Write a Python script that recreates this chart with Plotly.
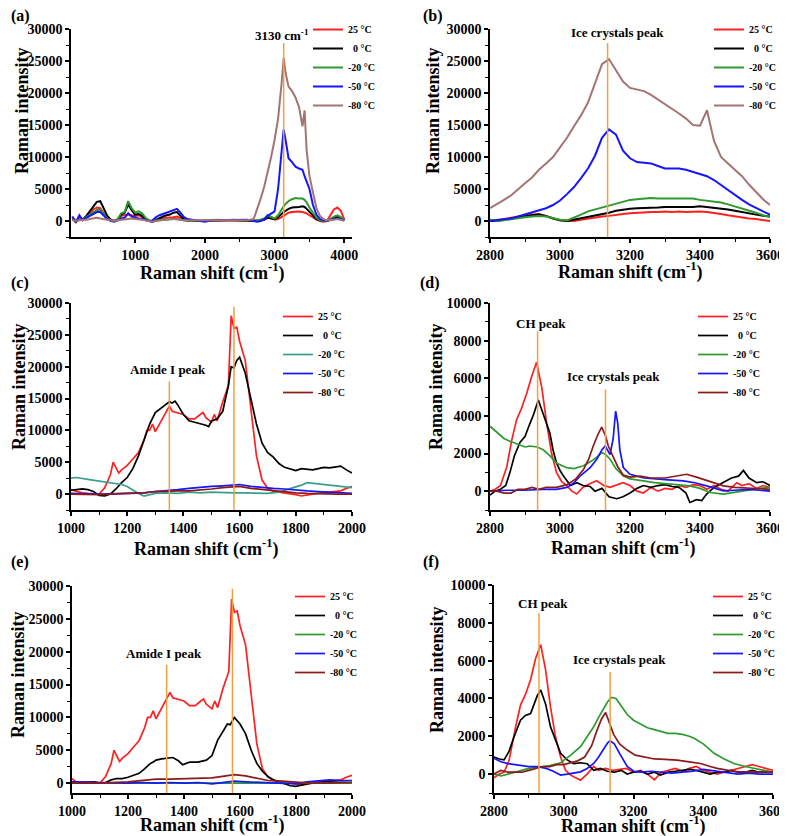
import plotly.graph_objects as go

# ---------------- data ----------------
TEMPS = ["25 °C", "\u00a0\u00a00 °C", "-20 °C", "-50 °C", "-80 °C"]

# (a) full spectrum
a_x = [100, 150, 200, 250, 300, 350, 400, 450, 500, 550, 600, 650, 700, 750, 800, 850, 900, 950, 1000, 1050,
       1100, 1150, 1200, 1250, 1300, 1350, 1400, 1450, 1500, 1550, 1600, 1650, 1700, 1750, 1800,
       1900, 2000, 2100, 2200, 2300, 2400, 2500, 2600, 2700,
       2750, 2800, 2850, 2900, 2950, 3000, 3050, 3100,
       3130, 3160, 3200, 3250, 3300, 3350, 3400, 3430, 3460,
       3500, 3550, 3600, 3650, 3700, 3750, 3800, 3850, 3900, 3950, 4000]
a_25 = [600, -200, 500, 300, 700, 1200, 1800, 2100, 2000, 1200, 400, 100, 0, 300, 800, 900, 1000, 900, 800, 900,
        600, 100, 0, -100, 100, 300, 400, 500, 500, 600, 700, 400, 200, 100, 0,
        50, 0, 100, 100, 50, 100, 100, 50, 0,
        50, 200, 300, 700, 600, 200, 300, 600,
        800, 1000, 1300, 1400, 1500, 1500, 1400, 1300, 1200,
        900, 500, 200, 0, -100, 0, 800, 1800, 2100, 1600, 200]
a_0 = [300, -100, 200, 200, 800, 1500, 2300, 3000, 3100, 2000, 800, 200, 0, 200, 1000, 1300, 2600, 1700, 1000, 1100,
       800, 300, 0, -100, 200, 500, 700, 900, 1000, 1300, 1400, 800, 300, 100, 50,
       0, 50, 100, 50, 100, 100, 50, 100, 50,
       0, 100, 200, 500, 400, 300, 600, 1200,
       1400, 1600, 1900, 2100, 2100, 2200, 2300, 2200, 1900,
       1400, 800, 300, 100, 0, 0, 200, 500, 600, 400, 100]
a_m20 = [400, 100, 300, 200, 600, 1000, 1400, 1700, 1700, 1100, 400, 100, 0, 300, 1200, 1400, 3100, 2000, 1300, 1500,
         1200, 500, 100, 0, 100, 200, 200, 200, 300, 300, 300, 200, 100, 0, 50,
         100, 100, 200, 200, 100, 200, 100, 100, 0,
         100, 200, 400, 900, 700, 400, 900, 1900,
         2300, 2700, 3100, 3400, 3600, 3500, 3500, 3300, 2900,
         2100, 1200, 500, 100, 0, 0, 300, 700, 900, 600, 100]
a_m50 = [700, -200, 900, 100, 500, 800, 1100, 1400, 1400, 900, 300, 0, -100, 100, 400, 500, 1200, 700, 500, 400,
         300, 100, 0, 100, 600, 900, 1100, 1300, 1500, 1800, 1900, 1300, 600, 300, 200,
         0, -100, 100, 100, 200, 200, 200, 200, 0,
         -100, 0, 200, 800, 1100, 1500, 5000, 11000,
         14300, 12500, 9800, 9200, 8500, 8200, 8000, 7000, 6200,
         5000, 2500, 1000, 300, 100, 0, 200, 300, 400, 300, 100]
a_m80 = [200, 0, 100, 100, 200, 300, 400, 500, 400, 300, 100, 0, 0, 100, 200, 300, 300, 400, 300, 300,
         200, 100, 0, -100, 0, 100, 200, 200, 300, 300, 300, 200, 100, 100, 0,
         0, 100, 100, 0, 100, 100, 50, 100, 300,
         1800, 3500, 5300, 7500, 10000, 12700, 16000, 21500,
         25500, 23000, 21000, 20300, 19300, 17800, 14800, 17300, 11000,
         7000, 4500, 2000, 800, 300, 100, 100, 200, 300, 200, 50]

# (b) O-H region
b_x = [2800, 2820, 2840, 2860, 2880, 2900, 2920, 2940, 2960, 2980, 3000, 3020, 3040, 3060, 3080, 3100, 3120, 3140,
       3160, 3180, 3200, 3220, 3240, 3260, 3280, 3300, 3320, 3340, 3360, 3380, 3400, 3420, 3440, 3460, 3480, 3500,
       3520, 3540, 3560, 3580, 3600]
b_25 = [0, 100, 300, 500, 700, 900, 1000, 1100, 800, 400, 100, 0, 0, 200, 400, 600, 700, 800, 1000, 1100,
        1200, 1300, 1400, 1400, 1400, 1500, 1400, 1500, 1400, 1500, 1500, 1400, 1300, 1100, 900, 700, 500, 400, 300, 100, 0]
b_0 = [0, 0, 200, 400, 600, 800, 900, 1000, 800, 400, 100, 0, 200, 500, 700, 900, 1100, 1300, 1600, 1800,
       1900, 2000, 2000, 2100, 2100, 2200, 2200, 2100, 2200, 2200, 2300, 2200, 2100, 2000, 1800, 1600, 1400, 1100, 900, 800, 700]
b_m20 = [200, 0, 100, 300, 500, 600, 700, 800, 700, 400, 200, 100, 500, 1000, 1500, 1800, 2100, 2500, 2800, 3100,
         3300, 3400, 3500, 3600, 3500, 3500, 3400, 3500, 3400, 3500, 3300, 3200, 3100, 2900, 2600, 2300, 2000, 1700, 1300, 900, 600]
b_m50 = [0, 100, 200, 400, 700, 1000, 1300, 1600, 2000, 2500, 3200, 4200, 5300, 6700, 8200, 10200, 13000, 14300, 13500, 11000,
         9800, 9200, 9100, 9000, 8600, 8200, 8200, 8200, 8000, 7700, 7400, 7000, 6400, 5600, 4800, 4000, 3300, 2600, 2000, 1500, 1000]
b_m80 = [2000, 2600, 3300, 4000, 5000, 5900, 6800, 8000, 9000, 10000, 11500, 13000, 14800, 16500, 18500, 21500, 24500, 25300, 23500, 21800,
         20800, 20500, 20300, 19700, 19000, 18300, 17500, 16800, 16000, 15000, 14900, 17300, 12500, 10000, 9000, 8000, 7000, 5700, 4500, 3400, 2500]

# (c) amide region, (x, intensity)
c_25 = [(1000, 700), (1020, 400), (1040, 200), (1060, 100), (1080, 0), (1100, 0), (1120, 1000), (1140, 3000), (1150, 5000),
        (1160, 4200), (1170, 3300), (1180, 3800), (1200, 4500), (1220, 5500), (1240, 6500), (1260, 8500), (1270, 10000),
        (1280, 10000), (1290, 11000), (1300, 9800), (1320, 11500), (1340, 13000), (1350, 13800), (1360, 13000), (1380, 12800),
        (1400, 12500), (1420, 11800), (1440, 11800), (1460, 12500), (1470, 12800), (1480, 12000), (1500, 11300), (1510, 12500),
        (1520, 11500), (1540, 14500), (1560, 17000), (1570, 28000), (1580, 26000), (1590, 26200), (1600, 24000), (1620, 21000),
        (1640, 13000), (1660, 6000), (1680, 2200), (1700, 900), (1720, 400), (1740, 300), (1760, 200), (1800, -100), (1820, -300),
        (1840, -100), (1860, 0), (1880, 100), (1900, 200), (1920, 300), (1940, 300), (1960, 500), (1980, 900), (2000, 1200)]
c_0 = [(1000, 600), (1020, 700), (1040, 800), (1060, 700), (1080, 400), (1100, -200), (1120, -300), (1140, 0), (1160, 800),
       (1180, 1800), (1200, 2600), (1220, 4000), (1240, 6000), (1260, 8500), (1280, 11000), (1300, 12800), (1320, 13500),
       (1340, 14200), (1350, 14500), (1360, 14300), (1370, 14600), (1380, 14000), (1400, 12500), (1420, 11500), (1440, 11300),
       (1460, 11000), (1480, 10800), (1490, 10600), (1500, 11500), (1520, 11800), (1540, 13000), (1560, 17000), (1570, 20000),
       (1580, 19800), (1590, 21000), (1600, 21500), (1620, 19000), (1640, 15000), (1660, 11000), (1680, 8000), (1700, 6500),
       (1720, 5800), (1740, 4800), (1760, 4200), (1780, 4000), (1800, 3700), (1820, 4000), (1840, 3900), (1860, 3800),
       (1880, 4000), (1900, 4200), (1920, 4100), (1940, 4300), (1960, 4400), (1980, 3800), (2000, 3300)]
c_m20 = [(1000, 2500), (1020, 2600), (1060, 2300), (1100, 2000), (1140, 1700), (1180, 1500), (1200, 1200), (1220, 600),
         (1240, 100), (1260, -300), (1280, -100), (1300, 100), (1340, 200), (1380, 100), (1420, 300), (1460, 200), (1500, 300),
         (1540, 200), (1580, 200), (1620, 200), (1660, 100), (1700, 100), (1740, 300), (1780, 800), (1820, 1400), (1840, 1800),
         (1860, 1700), (1900, 1400), (1940, 1200), (1980, 1100), (2000, 1000)]
c_m50 = [(1000, 100), (1100, 0), (1200, 100), (1260, 200), (1300, 400), (1340, 500), (1380, 700), (1420, 900), (1460, 1100),
         (1500, 1200), (1540, 1300), (1580, 1500), (1600, 1500), (1640, 1200), (1680, 1000), (1720, 900), (1760, 800),
         (1800, 600), (1840, 500), (1880, 400), (1920, 300), (1960, 200), (2000, 100)]
c_m80 = [(1000, 0), (1100, -100), (1200, 100), (1260, 200), (1300, 400), (1340, 500), (1380, 500), (1420, 500), (1460, 600),
         (1500, 800), (1540, 1000), (1580, 1200), (1600, 1200), (1640, 900), (1680, 700), (1720, 500), (1760, 400),
         (1800, 200), (1840, 100), (1900, 0), (1950, 0), (2000, 0)]

# (d) C-H / ice region
d_25 = [(2800, 0), (2815, 100), (2830, 300), (2848, 1300), (2862, 2700), (2876, 3800), (2890, 4400), (2905, 5200), (2919, 6100),
        (2933, 6850), (2948, 5500), (2962, 3600), (2976, 2000), (2990, 1000), (3005, 500), (3019, 300), (3034, 0), (3048, -150),
        (3065, 200), (3085, 400), (3105, 550), (3125, 300), (3143, 200), (3160, 300), (3180, 450), (3200, 300), (3220, 0),
        (3238, -100), (3260, 200), (3280, 0), (3300, 150), (3320, 100), (3340, 300), (3360, 200), (3380, 350), (3400, 300),
        (3420, 100), (3440, 300), (3460, 100), (3480, 0), (3505, 450), (3520, 300), (3540, 400), (3562, 150), (3580, 300), (3600, 200)]
d_0 = [(2800, -200), (2815, 0), (2830, 100), (2845, 300), (2857, 1000), (2870, 1900), (2886, 2600), (2900, 2900), (2912, 3500),
       (2925, 4100), (2938, 4850), (2950, 4200), (2962, 3500), (2971, 3100), (2980, 2200), (2990, 1500), (3000, 1100),
       (3010, 800), (3030, 300), (3048, 450), (3066, 300), (3086, 250), (3100, 0), (3120, 150), (3140, -300), (3162, -400),
       (3180, -300), (3200, -100), (3220, 150), (3238, 300), (3260, 200), (3280, 300), (3300, 350), (3320, 250), (3340, 200),
       (3360, -100), (3371, -600), (3390, -450), (3405, -500), (3419, -150), (3440, 200), (3467, 450), (3490, 700),
       (3510, 800), (3524, 1100), (3540, 700), (3562, 450), (3580, 500), (3600, 300)]
d_m20 = [(2800, 3450), (2820, 3100), (2840, 2800), (2857, 2650), (2880, 2500), (2900, 2350), (2914, 2400), (2935, 2350),
         (2952, 2200), (2970, 1900), (2990, 1500), (3005, 1350), (3019, 1250), (3040, 1200), (3067, 1350), (3090, 1600),
         (3105, 1800), (3119, 2050), (3130, 1950), (3143, 1700), (3160, 1200), (3181, 800), (3200, 650), (3238, 550),
         (3270, 450), (3300, 400), (3340, 350), (3371, 280), (3400, 150), (3429, -70), (3467, -160), (3500, -50),
         (3540, 50), (3570, 150), (3600, 200)]
d_m50 = [(2800, 0), (2850, 50), (2900, 50), (2950, 100), (2990, 100), (3020, 200), (3040, 450), (3057, 800), (3070, 1000),
         (3086, 1250), (3105, 1700), (3120, 2200), (3129, 2400), (3143, 1950), (3152, 2800), (3159, 4250), (3165, 3600),
         (3171, 2200), (3181, 1250), (3190, 1100), (3200, 900), (3240, 700), (3276, 630), (3310, 600), (3352, 550),
         (3385, 450), (3419, 280), (3440, 150), (3467, 20), (3500, 50), (3540, 100), (3570, 50), (3600, 0)]
d_m80 = [(2800, 0), (2820, 0), (2840, -100), (2860, -100), (2880, 100), (2900, 100), (2920, 200), (2940, 100), (2960, 200),
         (2990, 200), (3020, 350), (3045, 650), (3067, 1150), (3082, 1700), (3095, 2400), (3108, 3000), (3119, 3400),
         (3130, 2950), (3138, 2400), (3152, 1850), (3165, 1300), (3181, 850), (3200, 750), (3229, 800), (3260, 700),
         (3300, 700), (3333, 800), (3362, 900), (3390, 750), (3410, 630), (3440, 450), (3467, 280), (3500, 200),
         (3540, 150), (3570, 100), (3600, 100)]

# (e) amide region, second sample
e_25 = [(1000, 700), (1020, 0), (1040, 200), (1060, 100), (1080, 0), (1100, 0), (1120, 1000), (1140, 3000), (1150, 5000),
        (1160, 4200), (1170, 3300), (1180, 3800), (1200, 4500), (1220, 5500), (1240, 6500), (1260, 8500), (1270, 10000),
        (1280, 10000), (1290, 11000), (1300, 9800), (1320, 11500), (1340, 13000), (1350, 13800), (1360, 13000), (1380, 12800),
        (1400, 12500), (1420, 11800), (1440, 11800), (1460, 12500), (1470, 12800), (1480, 12000), (1500, 11300), (1510, 12500),
        (1520, 11500), (1540, 14500), (1560, 17000), (1570, 28000), (1580, 26000), (1590, 26200), (1600, 24000), (1620, 21000),
        (1640, 13000), (1660, 6000), (1680, 2200), (1700, 900), (1720, 400), (1740, 300), (1760, 200), (1800, -100), (1820, -300),
        (1840, -100), (1860, 0), (1880, 100), (1900, 200), (1920, 300), (1940, 300), (1960, 500), (1980, 900), (2000, 1200)]
e_0 = [(1000, 200), (1040, 100), (1080, 200), (1100, 0), (1120, 100), (1140, 500), (1160, 700), (1180, 700), (1200, 900),
       (1220, 1200), (1240, 1500), (1260, 2200), (1280, 3000), (1290, 3200), (1300, 3500), (1320, 3700), (1340, 3800),
       (1360, 3900), (1380, 3400), (1395, 2800), (1420, 3200), (1450, 3200), (1480, 3500), (1500, 4200), (1520, 6500),
       (1540, 8000), (1555, 9000), (1565, 8900), (1580, 10000), (1600, 9000), (1620, 7500), (1640, 5000), (1660, 3000),
       (1680, 1800), (1700, 1000), (1720, 500), (1740, 200), (1760, 0), (1780, -400), (1800, -500), (1820, -300),
       (1850, 0), (1900, 200), (1950, 200), (2000, 100)]
e_m20 = [(1000, 0), (1200, 0), (1400, 0), (1600, 100), (1800, 0), (2000, 0)]
e_m50 = [(1000, 200), (1040, 200), (1100, 100), (1200, 0), (1250, 100), (1300, 0), (1350, 100), (1400, 0), (1450, 100),
         (1500, -100), (1550, 200), (1580, 300), (1620, 200), (1700, 100), (1760, 0), (1800, -100), (1840, 200),
         (1880, 400), (1920, 500), (1960, 400), (2000, 400)]
e_m80 = [(1000, 0), (1100, 0), (1200, 200), (1250, 400), (1300, 600), (1350, 600), (1400, 700), (1450, 700), (1500, 800),
         (1550, 1100), (1580, 1300), (1620, 1100), (1660, 700), (1700, 400), (1750, 300), (1800, 100), (1850, 0),
         (1900, 0), (2000, 100)]

# (f) C-H / ice region, second sample
f_25 = [(2800, -200), (2815, 0), (2829, 100), (2843, 700), (2862, 2500), (2876, 3650), (2890, 4200), (2905, 5000), (2919, 6100),
        (2934, 6850), (2948, 5500), (2962, 3550), (2976, 2000), (2991, 900), (3005, 200), (3020, -50), (3034, -200),
        (3048, -320), (3067, 0), (3086, 400), (3100, 200), (3120, 300), (3140, 200), (3160, 250), (3180, 300), (3200, 100),
        (3220, 200), (3240, 0), (3260, -300), (3280, 100), (3300, 200), (3320, 300), (3340, 150), (3360, 300), (3380, 400),
        (3400, 200), (3420, 100), (3440, 0), (3460, 100), (3480, 200), (3500, 300), (3520, 400), (3540, 500), (3560, 400),
        (3580, 300), (3600, 200)]
f_0 = [(2800, 900), (2815, 800), (2829, 750), (2843, 1200), (2857, 1950), (2876, 2850), (2890, 3100), (2905, 3200),
       (2915, 3700), (2924, 4150), (2934, 4450), (2948, 3700), (2962, 2500), (2976, 1800), (2991, 1100), (3010, 750),
       (3029, 550), (3048, 600), (3067, 550), (3086, 200), (3105, 300), (3125, 150), (3145, 100), (3165, 200), (3182, 0),
       (3200, 100), (3220, 150), (3240, 0), (3260, 100), (3277, -50), (3300, 100), (3320, 150), (3340, 200), (3360, 250),
       (3380, 200), (3400, 100), (3420, 0), (3440, 100), (3460, 100), (3480, 200), (3500, 100), (3520, 100), (3540, 200),
       (3560, 100), (3580, 100), (3600, 100)]
f_m20 = [(2800, 0), (2820, -100), (2840, 0), (2860, 100), (2880, 200), (2900, 300), (2920, 350), (2940, 400), (2960, 450),
         (2991, 600), (3020, 1000), (3048, 1450), (3067, 1950), (3086, 2500), (3100, 3000), (3115, 3450), (3125, 3800),
         (3136, 4050), (3150, 4000), (3165, 3600), (3182, 3150), (3200, 2850), (3220, 2650), (3240, 2450), (3260, 2350),
         (3280, 2250), (3298, 2150), (3320, 2150), (3340, 2100), (3360, 2000), (3374, 1900), (3400, 1600), (3431, 1100),
         (3460, 800), (3488, 560), (3520, 400), (3550, 280), (3580, 180), (3600, 100)]
f_m50 = [(2800, 830), (2820, 650), (2840, 550), (2857, 500), (2880, 450), (2900, 400), (2924, 390), (2950, 300), (2970, 150),
         (2991, -50), (3010, 0), (3030, 50), (3048, 120), (3067, 300), (3086, 560), (3100, 900), (3115, 1350), (3126, 1650),
         (3133, 1760), (3145, 1600), (3160, 1100), (3172, 700), (3182, 400), (3201, 150), (3220, 100), (3250, 150),
         (3280, 100), (3310, 50), (3340, 100), (3370, 150), (3400, 250), (3420, 200), (3440, 150), (3470, 50), (3500, 0),
         (3530, 50), (3560, 0), (3600, 0)]
f_m80 = [(2800, 0), (2820, 200), (2840, 100), (2860, 100), (2880, 100), (2900, 200), (2920, 300), (2940, 400), (2960, 400),
         (2980, 500), (3000, 500), (3020, 600), (3040, 700), (3060, 900), (3080, 1500), (3095, 2300), (3108, 2900),
         (3120, 3260), (3130, 2800), (3143, 2100), (3160, 1600), (3182, 1270), (3205, 1000), (3229, 900), (3260, 800),
         (3290, 780), (3325, 740), (3360, 650), (3392, 560), (3420, 400), (3440, 300), (3468, 210), (3500, 120),
         (3540, 100), (3570, 100), (3600, 100)]

# peak marker lines: (x, top of line)
a_peaks = [(3130, 27800)]
b_peaks = [(3136, 27800)]
c_peaks = [(1350, 17700), (1580, 29400)]
d_peaks = [(2936, 8500), (3130, 5400)]
e_peaks = [(1338, 18000), (1573, 29600)]
f_peaks = [(2929, 8500), (3133, 5400)]

# ---------------- styling ----------------
RED, BLACK, GREEN, BLUE = "#ff2020", "#000000", "#2e9a2e", "#1515ff"
MAUVE, TEAL, MAROON = "#a47474", "#3a9e8c", "#8b1a1a"
ORANGE = "#f0a040"
SERIF = "Liberation Serif"
# the page body adds an 8px margin, so the figure is sized to fit the window
OFF = 8
W, H = 787 - OFF, 836 - OFF


def px(p):
    return (p - OFF) / W


def py(p):
    return 1 - (p - OFF) / H


def xd(l, r):
    return [px(l), px(r)]


def yd(t, b):
    return [py(b), py(t)]


tickfont = dict(family=SERIF, size=14, color="black", weight="bold")
titlefont = dict(family=SERIF, size=18, color="black", weight="bold")


def unzip(pairs):
    return [p[0] for p in pairs], [p[1] for p in pairs]


def common_axis(dtick):
    return dict(dtick=dtick, tick0=0, tickformat="d", showline=True, linecolor="black", linewidth=1.5,
                ticks="outside", ticklen=4, tickwidth=1.5, tickcolor="black",
                minor=dict(ticks="outside", ticklen=3, tickwidth=1.2, tickcolor="black", dtick=dtick / 2),
                showgrid=False, zeroline=False, tickfont=tickfont, automargin=False)


panels = [
    # letter, x dom, y dom, x range, x dtick, y range, y dtick, series, colors, peaks,
    # legend pos, x-title centre, y-title centre, letter pos (pixels)
    ("a", xd(71, 352), yd(29, 237), [80, 4110], 1000, [-2500, 30000], 5000,
     [(a_x, a_25), (a_x, a_0), (a_x, a_m20), (a_x, a_m50), (a_x, a_m80)],
     [RED, BLACK, GREEN, BLUE, MAUVE], a_peaks, (308, 15), (212, 272), (22, 111), (9, 16)),
    ("b", xd(490, 770), yd(29, 237), [2800, 3600], 200, [-2500, 30000], 5000,
     [(b_x, b_25), (b_x, b_0), (b_x, b_m20), (b_x, b_m50), (b_x, b_m80)],
     [RED, BLACK, GREEN, BLUE, MAUVE], b_peaks, (709, 15), (630, 271), (433, 111), (421, 16)),
    ("c", xd(71, 352), yd(303, 510), [1000, 2000], 200, [-2500, 30000], 5000,
     [unzip(c_25), unzip(c_0), unzip(c_m20), unzip(c_m50), unzip(c_m80)],
     [RED, BLACK, TEAL, BLUE, MAROON], c_peaks, (278, 302), (206, 548), (19, 387), (9, 283)),
    ("d", xd(490, 770), yd(303, 510), [2800, 3600], 200, [-1000, 10000], 2000,
     [unzip(d_25), unzip(d_0), unzip(d_m20), unzip(d_m50), unzip(d_m80)],
     [RED, BLACK, GREEN, BLUE, MAROON], d_peaks, (693, 302), (623, 547), (436, 387), (418, 283)),
    ("e", xd(72, 352), yd(586, 793), [1000, 2000], 200, [-1500, 30000], 5000,
     [unzip(e_25), unzip(e_0), unzip(e_m20), unzip(e_m50), unzip(e_m80)],
     [RED, BLACK, GREEN, BLUE, MAROON], e_peaks, (290, 582), (212, 824), (18, 675), (9, 562)),
    ("f", xd(494, 773), yd(585, 793), [2800, 3600], 200, [-1000, 10000], 2000,
     [unzip(f_25), unzip(f_0), unzip(f_m20), unzip(f_m50), unzip(f_m80)],
     [RED, BLACK, GREEN, BLUE, MAROON], f_peaks, (708, 582), (633, 825), (437, 670), (421, 562)),
]

fig = go.Figure()
layout = dict(width=W, height=H, margin=dict(l=0, r=0, t=0, b=0),
              plot_bgcolor="white", paper_bgcolor="white", showlegend=True)
shapes, annotations = [], []

for i, (letter, xdom, ydom, xr, xdt, yr, ydt, series, colors, peaks, lpos, xt, yt, lp) in enumerate(panels):
    n = "" if i == 0 else str(i + 1)
    xname, yname, lname = "x" + n, "y" + n, "legend" + n
    width = 2 if i < 2 else 1.7
    for (xs, ys), col, lab in zip(series, colors, TEMPS):
        fig.add_trace(go.Scatter(x=xs, y=ys, mode="lines", name=lab, xaxis=xname, yaxis=yname,
                                 legend=lname, line=dict(color=col, width=width)))
    xa = common_axis(xdt)
    xa.update(domain=xdom, range=xr, anchor=yname)
    ya = common_axis(ydt)
    ya.update(domain=ydom, range=yr, anchor=xname)
    layout["xaxis" + n] = xa
    layout["yaxis" + n] = ya
    layout[lname] = dict(x=px(lpos[0]), y=py(lpos[1]), xanchor="left", yanchor="top",
                         bgcolor="rgba(0,0,0,0)", tracegroupgap=0, itemwidth=30,
                         font=dict(family=SERIF, size=10, color="black", weight="bold"))
    for pk, top in peaks:
        shapes.append(dict(type="line", xref=xname, yref=yname, x0=pk, x1=pk, y0=yr[0], y1=top,
                           line=dict(color=ORANGE, width=1.5)))
    # axis titles
    annotations.append(dict(text="Raman shift (cm<sup>-1</sup>)", xref="paper", yref="paper",
                            x=px(xt[0]), y=py(xt[1]), xanchor="center", yanchor="middle",
                            showarrow=False, font=titlefont))
    annotations.append(dict(text="Raman intensity", xref="paper", yref="paper", textangle=-90,
                            x=px(yt[0]), y=py(yt[1]), xanchor="center", yanchor="middle",
                            showarrow=False, font=titlefont))
    # panel letter
    annotations.append(dict(text="(" + letter + ")", xref="paper", yref="paper", x=px(lp[0]), y=py(lp[1]),
                            xanchor="left", yanchor="middle", showarrow=False,
                            font=dict(family=SERIF, size=16, color="black", weight="bold")))

peak_labels = [
    ("x", "y", 3110, 29000, "3130 cm<sup>-1</sup>"),
    ("x2", "y2", 3164, 29500, "Ice crystals peak"),
    ("x3", "y3", 1345, 19600, "Amide I peak"),
    ("x3", "y3", 1575, 30800, "Amide III peak"),
    ("x4", "y4", 2945, 8900, "CH peak"),
    ("x4", "y4", 3154, 6070, "Ice crystals peak"),
    ("x5", "y5", 1330, 19700, "Amide I peak"),
    ("x5", "y5", 1583, 31300, "Amide III peak"),
    ("x6", "y6", 2940, 9030, "CH peak"),
    ("x6", "y6", 3161, 6070, "Ice crystals peak"),
]
for xr_, yr_, x, y, t in peak_labels:
    annotations.append(dict(text=t, xref=xr_, yref=yr_, x=x, y=y, showarrow=False,
                            xanchor="center", yanchor="middle",
                            font=dict(family=SERIF, size=13, color="black", weight="bold")))

layout["shapes"] = shapes
layout["annotations"] = annotations
fig.update_layout(**layout)

fig.write_html("out.html")
